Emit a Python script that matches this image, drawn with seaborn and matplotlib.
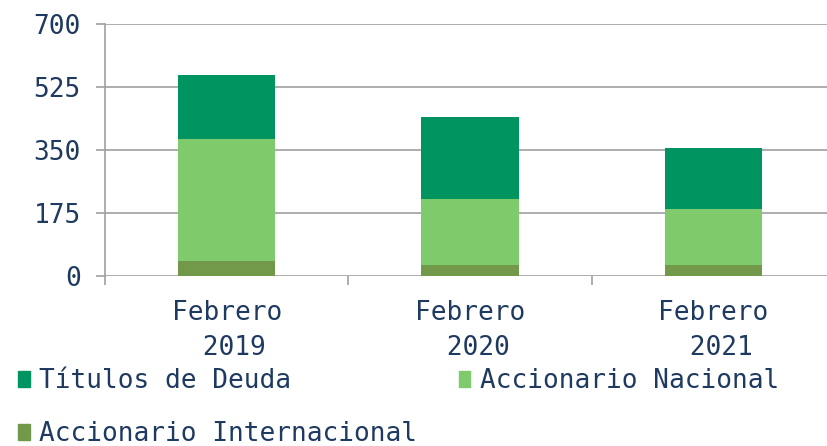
import matplotlib
matplotlib.use("Agg")
import matplotlib.pyplot as plt
import matplotlib.patches as mpatches
import seaborn as sns
import pandas as pd
import numpy as np

categories = ["Febrero\n 2019", "Febrero\n 2020", "Febrero\n 2021"]
intl = [43, 31, 31]
nacional = [338, 183, 156]
titulos = [178, 228, 168]
series_names = ["Títulos de Deuda", "Accionario Nacional", "Accionario Internacional"]
y_ticks = [0, 175, 350, 525, 700]

c_tit = "#009460"
c_nac = "#7fcb6b"
c_int = "#72984a"
txt = "#1f3a60"
grid_c = "#a0a0a0"

sns.set_theme(style="white")
plt.rcParams["font.family"] = ["DejaVu Sans Mono", "DejaVu Sans"]

df = pd.DataFrame({
    "cat": categories,
    "intl": intl,
    "nac": nacional,
    "tit": titulos,
})
df["s1"] = df["intl"]
df["s2"] = df["intl"] + df["nac"]
df["s3"] = df["s2"] + df["tit"]

fig = plt.figure(figsize=(8.28, 4.46), dpi=100)
ax = fig.add_axes([105/828, 170/446, (835-105)/828, 252/446])

for ycol, col in [("s3", c_tit), ("s2", c_nac), ("s1", c_int)]:
    sns.barplot(data=df, x="cat", y=ycol, color=col, width=0.4, ax=ax,
                saturation=1, edgecolor="none", linewidth=0, zorder=3)

ax.set_xlim(-0.5, 2.5)
ax.set_ylim(0, 700)
ax.set_yticks(y_ticks)
ax.set_yticklabels([str(v) for v in y_ticks])
ax.set_xlabel("")
ax.set_ylabel("")
ax.grid(axis="y", color=grid_c, linewidth=1.2, zorder=0)
ax.set_axisbelow(True)
for s in ["top", "right", "bottom"]:
    ax.spines[s].set_visible(False)
ax.spines["left"].set_color(grid_c)
ax.spines["left"].set_linewidth(1.2)

fs = 18.8
ax.tick_params(axis="y", which="major", length=6.5, width=1.2, color=grid_c,
               labelsize=fs, labelcolor=txt, pad=11, direction="out", left=True)
ax.tick_params(axis="x", which="major", length=0, labelsize=fs, labelcolor=txt, pad=17)
ax.set_xticks([-0.5, 0.5, 1.5, 2.5], minor=True)
ax.tick_params(axis="x", which="minor", length=6.5, width=1.2, color=grid_c,
               direction="out", bottom=True)
for lab in ax.get_xticklabels():
    lab.set_linespacing(1.45)

handles = [mpatches.Patch(color=c_tit, label=series_names[0]),
           mpatches.Patch(color=c_int, label=series_names[2]),
           mpatches.Patch(color=c_nac, label=series_names[1])]
leg = fig.legend(handles=handles, loc="upper left", bbox_to_anchor=(18/828, (446-368)/446),
                 ncol=2, frameon=False, fontsize=fs, borderpad=0, borderaxespad=0,
                 handlelength=0.45, handleheight=0.55, handletextpad=0.35,
                 labelspacing=1.05, columnspacing=1.6)
for t in leg.get_texts():
    t.set_color(txt)

fig.savefig("out.png", dpi=100)
